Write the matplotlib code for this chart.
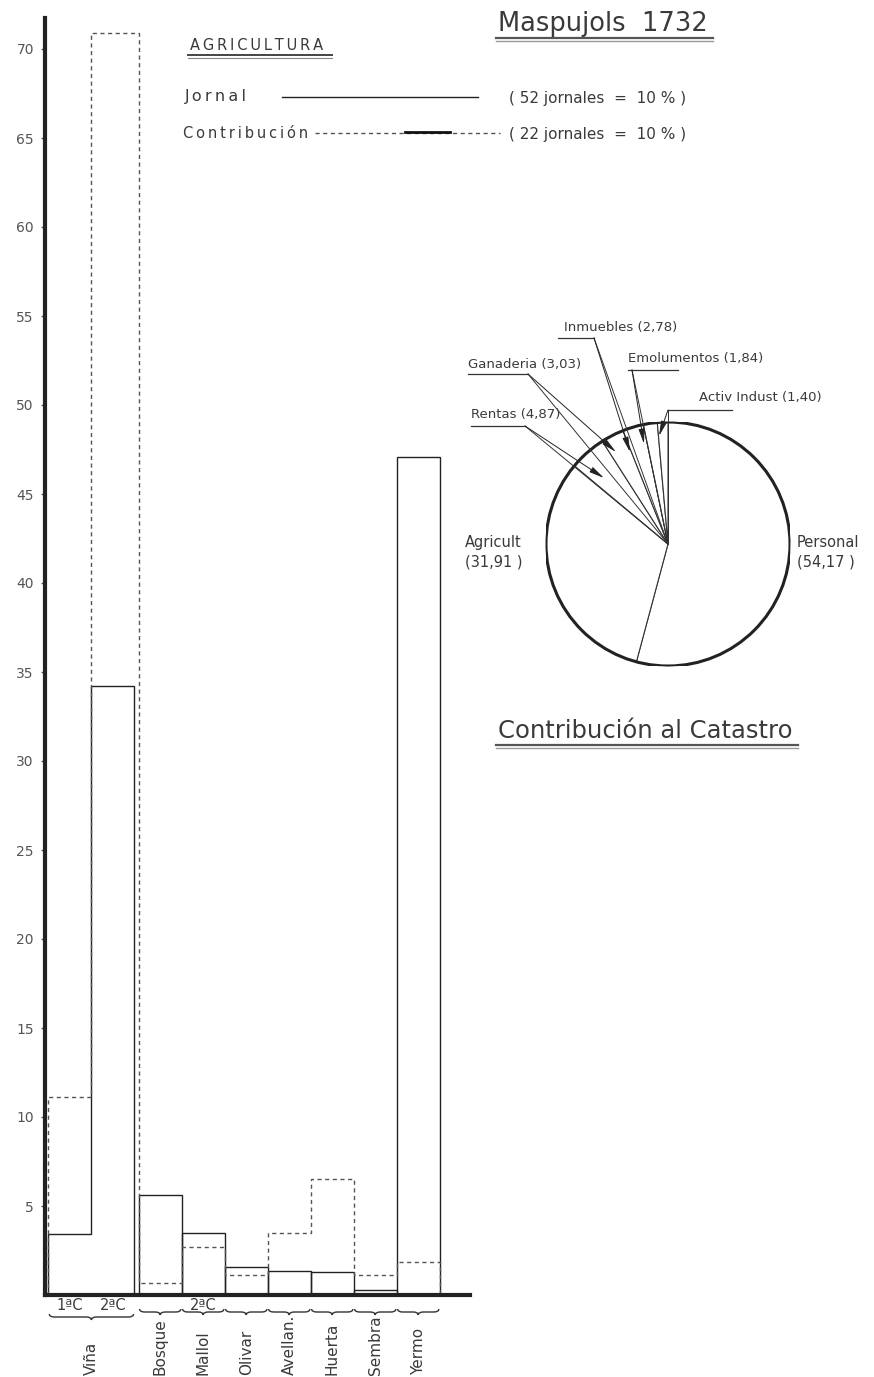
import numpy as np
import matplotlib
matplotlib.use("Agg")
import matplotlib.pyplot as plt
from matplotlib.path import Path
from matplotlib.patches import PathPatch, Circle
from matplotlib.lines import Line2D
import matplotlib.transforms as mtransforms

# ---------------- data ----------------
bar_names = ['Viña 1ªC', 'Viña 2ªC', 'Bosque', 'Mallol', 'Olivar', 'Avellan.', 'Huerta', 'Sembra', 'Yermo']
jornal = [3.4, 34.2, 5.6, 3.5, 1.6, 1.35, 1.3, 0.3, 47.1]
contribucion = [11.1, 70.9, 0.7, 2.7, 1.1, 3.5, 6.5, 1.1, 1.85]
group_names = ['Viña', 'Bosque', 'Mallol', 'Olivar', 'Avellan.', 'Huerta', 'Sembra', 'Yermo']
group_spans = [(0, 1), (2, 2), (3, 3), (4, 4), (5, 5), (6, 6), (7, 7), (8, 8)]
sub_labels = {0: '1ªC', 1: '2ªC', 3: '2ªC'}
y_ticks = [5, 10, 15, 20, 25, 30, 35, 40, 45, 50, 55, 60, 65, 70]

pie_labels = ['Personal', 'Agricult', 'Rentas', 'Ganaderia', 'Inmuebles', 'Emolumentos', 'Activ Indust']
pie_values = [54.17, 31.91, 4.87, 3.03, 2.78, 1.84, 1.40]
pie_value_text = ['54,17', '31,91', '4,87', '3,03', '2,78', '1,84', '1,40']

FONT = 'DejaVu Sans'
TXT = '#3a3a3a'
LINE = '#222222'
plt.rcParams['font.family'] = [FONT]

W, H = 874, 1377
fig = plt.figure(figsize=(W / 100, H / 100), dpi=100)
fig.patch.set_facecolor('white')


def fx(px):
    return px / W


def fy(py):
    return 1 - py / H


def spaced(s, sep='\u2009'):
    return sep.join(list(s))


# ---------------- bar chart ----------------
base_px, top_px, left_px, right_px = 1295, 18, 45, 470
unit = 17.8
ax = fig.add_axes([fx(left_px), fy(base_px), (right_px - left_px) / W, (base_px - top_px) / H])
ax.set_ylim(0, (base_px - top_px) / unit)
ax.set_xlim(0, (right_px - left_px) / 43.0)

idx = np.arange(len(bar_names))
lefts = idx + np.where(idx >= 2, 0.1, 0.0) + 0.08
rights = lefts + 1.0

# solid (Jornal): Viña group drawn as steps, others as boxes
ax.stairs(jornal[:2], np.r_[lefts[:2], rights[1]], baseline=0, color=LINE, lw=1.0)
ax.bar(lefts[2:], jornal[2:], width=1.0, align='edge', facecolor='none', edgecolor=LINE, lw=1.0)

# dashed (Contribución): continuous step outline
edges_c = np.r_[lefts, rights[-1]]
ax.stairs(contribucion, edges_c, baseline=0, color='#555555', lw=1.0, linestyle=(0, (3, 2.5)))

for sp in ['top', 'right']:
    ax.spines[sp].set_visible(False)
ax.spines['left'].set_linewidth(3.0)
ax.spines['bottom'].set_linewidth(3.0)
ax.spines['left'].set_color('#222222')
ax.spines['bottom'].set_color('#222222')
ax.set_yticks(y_ticks)
ax.set_yticklabels([str(t) for t in y_ticks], fontsize=10, color='#555555')
ax.tick_params(axis='y', direction='out', length=3, width=1, pad=5, colors='#555555')
ax.set_xticks([])
ax.patch.set_alpha(0)

# braces under groups
trans_b = mtransforms.blended_transform_factory(ax.transData, fig.transFigure)


def brace(x0, x1, ypx):
    y = fy(ypx)
    dy = 3.0 / H
    d = 0.12
    xm = (x0 + x1) / 2
    verts = [(x0, y + dy), (x0, y), (x0 + d, y),
             (xm - d, y), (xm, y), (xm, y - dy),
             (xm, y), (xm + d, y),
             (x1 - d, y), (x1, y), (x1, y + dy)]
    codes = [Path.MOVETO, Path.CURVE3, Path.CURVE3,
             Path.LINETO, Path.CURVE3, Path.CURVE3,
             Path.CURVE3, Path.CURVE3,
             Path.LINETO, Path.CURVE3, Path.CURVE3]
    p = PathPatch(Path(verts, codes), transform=trans_b, fill=False, lw=1.0,
                  edgecolor='#333333', clip_on=False)
    fig.add_artist(p)


for name, (i0, i1) in zip(group_names, group_spans):
    x0, x1 = lefts[i0] + 0.02, rights[i1] - 0.02
    brace(x0, x1, 1317 if i0 == 0 else 1312)
    ax.annotate(name, xy=((x0 + x1) / 2, 0), xytext=(0, -(1375 - base_px)),
                textcoords='offset pixels', rotation=90, ha='center', va='bottom',
                fontsize=11, color=TXT, annotation_clip=False)

for i, s in sub_labels.items():
    ax.annotate(s, xy=((lefts[i] + rights[i]) / 2, 0), xytext=(0, -(1305 - base_px) - 1),
                textcoords='offset pixels', ha='center', va='center',
                fontsize=10.5, color=TXT, annotation_clip=False)

# ---------------- legend / titles ----------------
fig.text(fx(190), fy(45), spaced('AGRICULTURA'), fontsize=10.5, color=TXT, ha='left', va='center')
fig.add_artist(Line2D([fx(188), fx(332)], [fy(55), fy(55)], color='#444444', lw=1.4))
fig.add_artist(Line2D([fx(188), fx(332)], [fy(57.5), fy(57.5)], color='#888888', lw=0.8))

fig.text(fx(185), fy(97), spaced('Jornal'), fontsize=11.5, color=TXT, ha='left', va='center')
fig.add_artist(Line2D([fx(282), fx(478)], [fy(97), fy(97)], color=LINE, lw=1.0))
fig.text(fx(509), fy(98), '( 52 jornales  =  10 % )', fontsize=11, color=TXT, ha='left', va='center')

fig.text(fx(183), fy(133), spaced('Contribución'), fontsize=10.5, color=TXT, ha='left', va='center')
fig.add_artist(Line2D([fx(315), fx(500)], [fy(133), fy(133)], color='#555555', lw=1.0,
                      linestyle=(0, (3, 2.5))))
fig.add_artist(Line2D([fx(405), fx(450)], [fy(132), fy(132)], color='#111111', lw=2.0))
fig.text(fx(509), fy(134), '( 22 jornales  =  10 % )', fontsize=11, color=TXT, ha='left', va='center')

fig.text(fx(498), fy(24), 'Maspujols  1732', fontsize=18.5, color=TXT, ha='left', va='center')
fig.add_artist(Line2D([fx(496), fx(713)], [fy(38), fy(38)], color='#555555', lw=1.6))
fig.add_artist(Line2D([fx(496), fx(713)], [fy(41), fy(41)], color='#999999', lw=1.0))

fig.text(fx(498), fy(731), 'Contribución al Catastro', fontsize=17.5, color=TXT, ha='left', va='center')
fig.add_artist(Line2D([fx(496), fx(798)], [fy(745), fy(745)], color='#555555', lw=1.6))
fig.add_artist(Line2D([fx(496), fx(798)], [fy(748), fy(748)], color='#999999', lw=1.0))

# ---------------- pie ----------------
cx, cy, R = 668, 544, 122
pax = fig.add_axes([fx(cx - R), fy(cy + R), 2 * R / W, 2 * R / H])
wedges, _ = pax.pie(pie_values, startangle=90, counterclock=False, radius=1,
                    wedgeprops=dict(facecolor='white', edgecolor='#333333', linewidth=0.8))
pax.add_patch(Circle((0, 0), 1, fill=False, edgecolor='#222222', lw=2.2))
pax.set_xlim(-1, 1)
pax.set_ylim(-1, 1)
pax.set_aspect('equal')
pax.axis('off')


def pc(px, py):
    return ((px - cx) / R, (cy - py) / R)


# big labels
tx, ty = pc(797, 552)
pax.text(tx, ty, f'{pie_labels[0]}\n({pie_value_text[0]} )', fontsize=10.5, color=TXT,
         ha='left', va='center', linespacing=1.4, clip_on=False)
tx, ty = pc(465, 552)
pax.text(tx, ty, f'{pie_labels[1]}\n({pie_value_text[1]} )', fontsize=10.5, color=TXT,
         ha='left', va='center', linespacing=1.4, clip_on=False)

# small labels: (text pos, underline y, underline x range, leader start, arrow point)
small_cfg = {
    2: dict(t=(471, 414), ul=(471, 525, 426), start=(525, 426), arr=(604, 478)),
    3: dict(t=(468, 364), ul=(468, 528, 374), start=(528, 374), arr=(616, 452)),
    4: dict(t=(564, 328), ul=(558, 594, 338), start=(594, 338), arr=(630, 452)),
    5: dict(t=(628, 358), ul=(628, 678, 370), start=(632, 370), arr=(644, 444)),
    6: dict(t=(699, 397), ul=(668, 732, 410), start=(668, 410), arr=(659, 436)),
}
for k, c in small_cfg.items():
    x, y = pc(*c['t'])
    pax.text(x, y, f'{pie_labels[k]} ({pie_value_text[k]})', fontsize=9.5, color=TXT,
             ha='left', va='center', clip_on=False)
    ux0, _ = pc(c['ul'][0], 0)
    ux1, uy = pc(c['ul'][1], c['ul'][2])
    pax.plot([ux0, ux1], [uy, uy], color='#333333', lw=0.9, clip_on=False)
    s = pc(*c['start'])
    a = pc(*c['arr'])
    pax.plot([s[0], 0], [s[1], 0], color='#333333', lw=0.7, clip_on=False)
    pax.annotate('', xy=a, xytext=s,
                 arrowprops=dict(arrowstyle='-|>,head_length=0.9,head_width=0.18',
                                 color='#222222', lw=0.7, shrinkA=0, shrinkB=0),
                 annotation_clip=False)

fig.savefig('out.png', dpi=100, facecolor='white')
